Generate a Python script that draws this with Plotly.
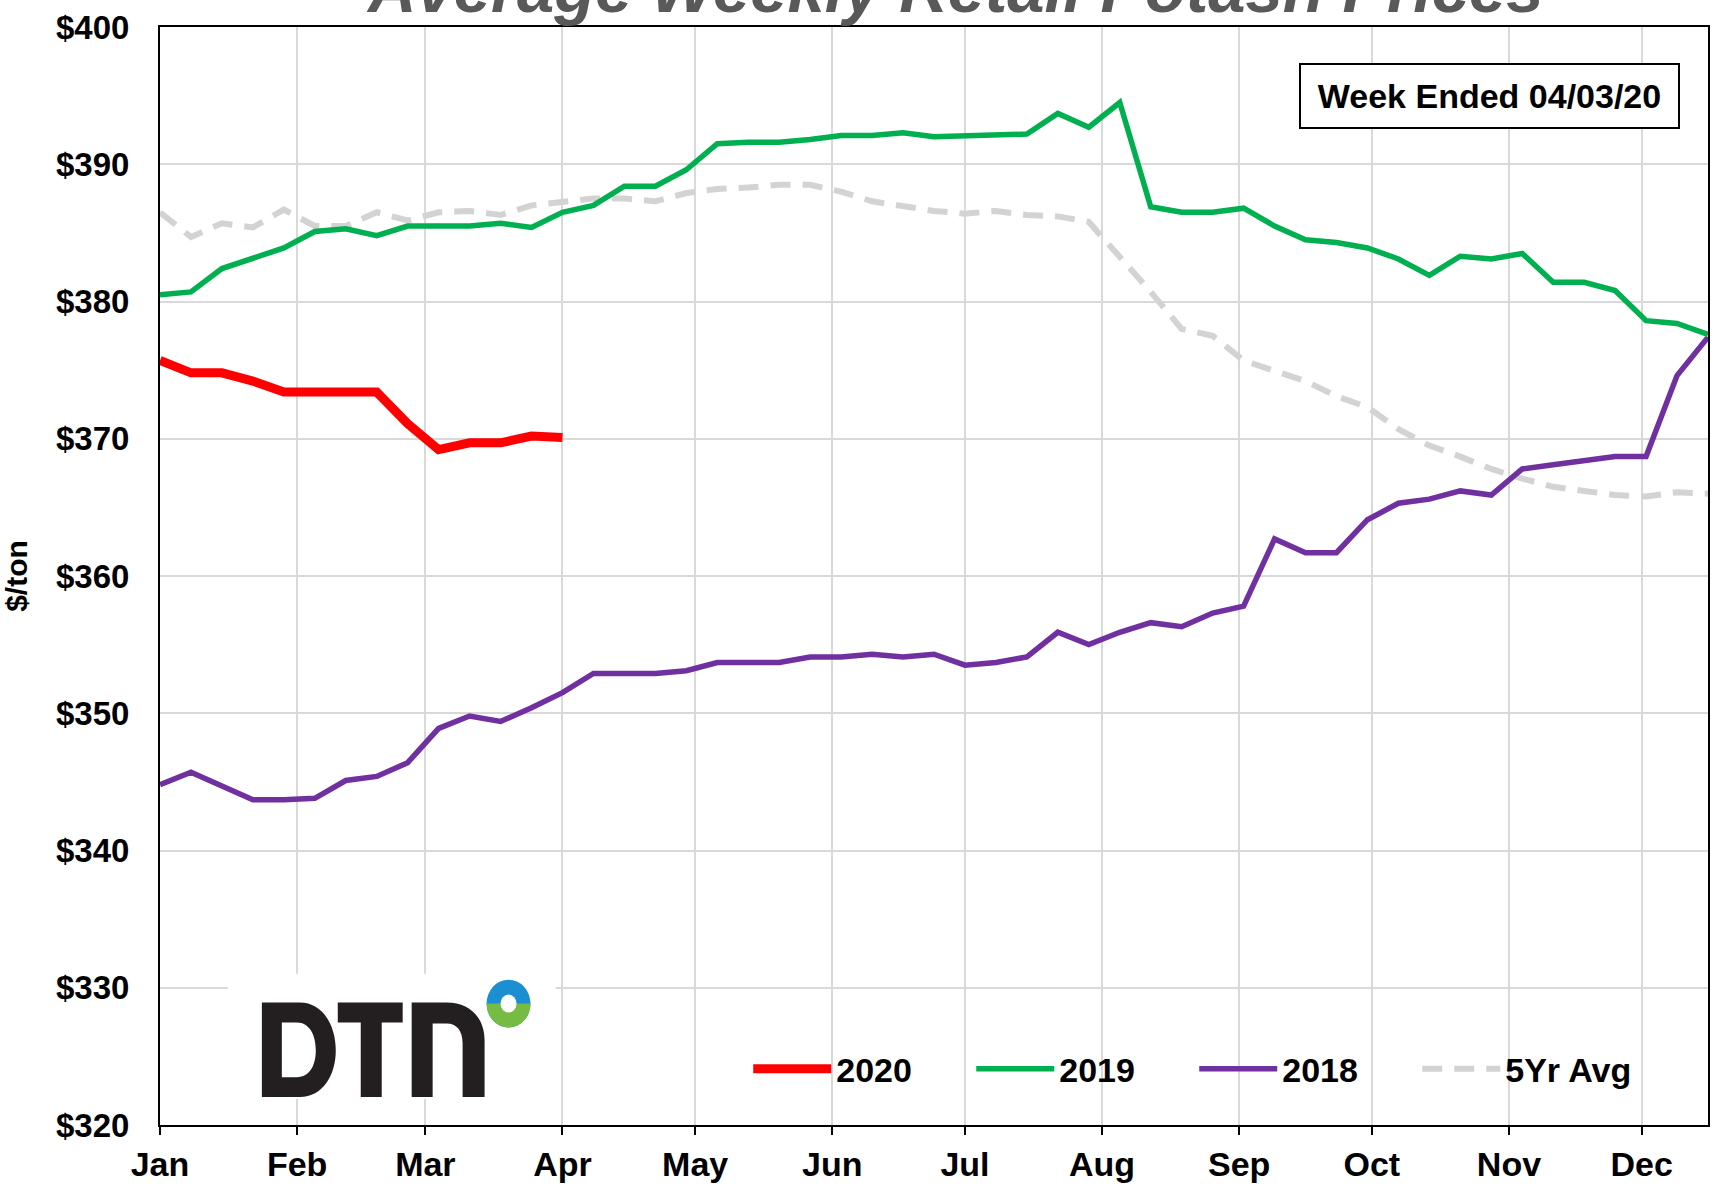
import pandas as pd
import plotly.graph_objects as go

# ---------------- data ----------------
week_start = "2020-01-01"
n_weeks = 51
months = ["Jan", "Feb", "Mar", "Apr", "May", "Jun", "Jul", "Aug", "Sep", "Oct", "Nov", "Dec"]

price_2020 = [375.7, 374.8, 374.8, 374.2, 373.4, 373.4, 373.4, 373.4, 371.1, 369.2,
              369.7, 369.7, 370.2, 370.1]

price_2019 = [380.5, 380.7, 382.4, 383.2, 383.9, 385.1, 385.3, 384.8, 385.5, 385.5,
              385.5, 385.7, 385.4, 386.5, 387.0, 388.4, 388.4, 389.6, 391.5, 391.6,
              391.6, 391.8, 392.1, 392.1, 392.3, 392.0, 392.1, 392.2, 392.2, 393.7,
              392.7, 394.5, 386.9, 386.5, 386.5, 386.8, 385.5, 384.5, 384.3, 383.9,
              383.1, 381.9, 383.3, 383.1, 383.5, 381.4, 381.4, 380.8, 378.6, 378.4,
              377.6]

price_2018 = [344.8, 345.7, 344.7, 343.7, 343.7, 343.8, 345.1, 345.4, 346.4, 348.9,
              349.8, 349.4, 350.4, 351.5, 352.9, 352.9, 352.9, 353.1, 353.7, 353.7,
              353.7, 354.1, 354.1, 354.3, 354.1, 354.3, 353.5, 353.7, 354.1, 355.9,
              355.0, 355.9, 356.6, 356.3, 357.3, 357.8, 362.7, 361.7, 361.7, 364.1,
              365.3, 365.6, 366.2, 365.9, 367.8, 368.1, 368.4, 368.7, 368.7, 374.6,
              377.4]

price_5yr = [386.5, 384.7, 385.7, 385.4, 386.7, 385.5, 385.5, 386.5, 385.9, 386.5,
             386.6, 386.3, 387.0, 387.3, 387.5, 387.5, 387.3, 387.9, 388.2, 388.3,
             388.5, 388.5, 388.0, 387.3, 386.9, 386.6, 386.4, 386.6, 386.3, 386.2,
             385.8, 383.3, 380.7, 378.0, 377.5, 375.7, 375.0, 374.2, 373.1, 372.3,
             370.7, 369.5, 368.7, 367.8, 367.1, 366.5, 366.2, 365.9, 365.8, 366.1,
             366.0]

weeks = pd.date_range(week_start, periods=n_weeks, freq="7D")
month_ticks = pd.date_range("2020-01-01", periods=12, freq="MS")

# ---------------- styling ----------------
NARROW = "Liberation Sans Narrow, Arial Narrow, Liberation Sans, Arial, sans-serif"
REG = "Liberation Sans, Arial, sans-serif"
W, H = 1715, 1188
KY = 1.0135                   # small vertical correction of the layout
L, R, T = 160, 1710, 27
B = T + (1130 - T) * KY


def sy(Y):
    """layout y (pixels from top) corrected"""
    return T + (Y - T) * KY


def px(X):
    return (X - L) / (R - L)


def py(Y):
    return (B - sy(Y)) / (B - T)


fig = go.Figure()

fig.add_trace(go.Scatter(x=weeks, y=price_5yr, name="5Yr Avg", mode="lines",
                         line=dict(color="#d3d3d3", width=6, dash="20px,12px"),
                         legendrank=4))
fig.add_trace(go.Scatter(x=weeks, y=price_2018, name="2018", mode="lines",
                         line=dict(color="#7030a0", width=5.5), legendrank=3))
fig.add_trace(go.Scatter(x=weeks, y=price_2019, name="2019", mode="lines",
                         line=dict(color="#00b050", width=5.5), legendrank=2))
fig.add_trace(go.Scatter(x=weeks[:len(price_2020)], y=price_2020, name="2020", mode="lines",
                         line=dict(color="#ff0000", width=9), legendrank=1))

fig.update_layout(
    width=W, height=H,
    margin=dict(l=L, r=W - R, t=T, b=H - B),
    plot_bgcolor="white", paper_bgcolor="white",
    showlegend=True,
    legend=dict(orientation="h", x=px(749), y=py(1074), xanchor="left", yanchor="middle",
                font=dict(family=NARROW, size=34, color="black", weight="bold"),
                bgcolor="rgba(0,0,0,0)", itemwidth=78, entrywidth=130,
                entrywidthmode="pixels", tracegroupgap=0),
    xaxis=dict(type="date", range=[weeks[0], weeks[-1]],
               tickvals=month_ticks, ticktext=months,
               showgrid=True, gridcolor="#d9d9d9", gridwidth=1.5,
               showline=True, linecolor="black", linewidth=2, mirror=True,
               ticks="outside", ticklen=8, tickwidth=2, tickcolor="black",
               ticklabelstandoff=0,
               tickfont=dict(family=NARROW, size=34, color="black", weight="bold"),
               zeroline=False),
    yaxis=dict(range=[320, 400], tick0=320, dtick=10, tickprefix="$",
               showgrid=True, gridcolor="#d9d9d9", gridwidth=1.5,
               showline=True, linecolor="black", linewidth=2, mirror=True,
               ticks="", ticklabelstandoff=22,
               tickfont=dict(family=NARROW, size=33, color="black", weight="bold"),
               title=dict(text="$/ton", standoff=20,
                          font=dict(family=REG, size=30, color="black", weight="bold")),
               zeroline=False),
)

# title (partly cut off at top of the image, as in the original)
fig.add_annotation(text="Average Weekly Retail Potash Prices", xref="paper", yref="paper",
                   x=px(956), y=py(-12), xanchor="center", yanchor="middle", showarrow=False,
                   font=dict(family=NARROW, size=67, color="#595959", weight="bold",
                             style="italic"))

# week ended box
fig.add_annotation(text="Week Ended 04/03/20", xref="paper", yref="paper",
                   x=px(1491), y=py(96), xanchor="center", yanchor="middle", showarrow=False,
                   width=377, height=62, borderpad=0, borderwidth=2, bordercolor="black",
                   bgcolor="white",
                   font=dict(family=NARROW, size=34, color="black", weight="bold"))

# ---------------- DTN logo ----------------
shapes = []
shapes.append(dict(type="rect", xref="paper", yref="paper", x0=px(228), x1=px(556),
                   y0=py(1104), y1=py(978), fillcolor="white", line=dict(width=0),
                   layer="above"))


def P(X, Y):
    return f"{px(X):.5f},{py(Y):.5f}"


logo_col = "#231f20"
d_path = (f"M{P(262,1007)} L{P(300,1007)} C{P(323,1007)} {P(336,1030)} {P(336,1055)} "
          f"C{P(336,1080)} {P(323,1102)} {P(300,1102)} L{P(262,1102)} Z "
          f"M{P(282,1027)} L{P(282,1082)} L{P(297,1082)} C{P(310,1082)} {P(316,1070)} {P(316,1055)} "
          f"C{P(316,1040)} {P(310,1027)} {P(297,1027)} Z")
t_path = (f"M{P(338,1007)} L{P(403,1007)} L{P(403,1027)} L{P(382,1027)} L{P(382,1102)} "
          f"L{P(361,1102)} L{P(361,1027)} L{P(338,1027)} Z")
n_path = (f"M{P(412,1102)} L{P(412,1007)} L{P(447,1007)} C{P(470,1007)} {P(485,1022)} {P(485,1045)} "
          f"L{P(485,1102)} L{P(463,1102)} L{P(463,1048)} C{P(463,1035)} {P(457,1028)} {P(447,1028)} "
          f"L{P(433,1028)} L{P(433,1102)} Z")
for pth in (d_path, t_path, n_path):
    shapes.append(dict(type="path", xref="paper", yref="paper", path=pth,
                       fillcolor=logo_col, line=dict(width=0), fillrule="evenodd",
                       layer="above"))

cx, cy, rx, ry = 509, 1008, 22, 24
k = 0.5523
shapes.append(dict(type="circle", xref="paper", yref="paper", x0=px(cx - rx), x1=px(cx + rx),
                   y0=py(cy + ry), y1=py(cy - ry), fillcolor="#1b8fd2", line=dict(width=0),
                   layer="above"))
green_half = (f"M{P(cx-rx,cy)} C{P(cx-rx,cy+k*ry)} {P(cx-k*rx,cy+ry)} {P(cx,cy+ry)} "
              f"C{P(cx+k*rx,cy+ry)} {P(cx+rx,cy+k*ry)} {P(cx+rx,cy)} Z")
shapes.append(dict(type="path", xref="paper", yref="paper", path=green_half,
                   fillcolor="#76bc43", line=dict(width=0), layer="above"))
shapes.append(dict(type="circle", xref="paper", yref="paper", x0=px(cx - 8), x1=px(cx + 8),
                   y0=py(cy + 9), y1=py(cy - 9), fillcolor="white", line=dict(width=0),
                   layer="above"))
fig.update_layout(shapes=shapes)

fig.write_html("out.html", config={"displayModeBar": False},
               post_script="document.body.style.margin='0px';"
                           "document.body.style.overflow='hidden';")
